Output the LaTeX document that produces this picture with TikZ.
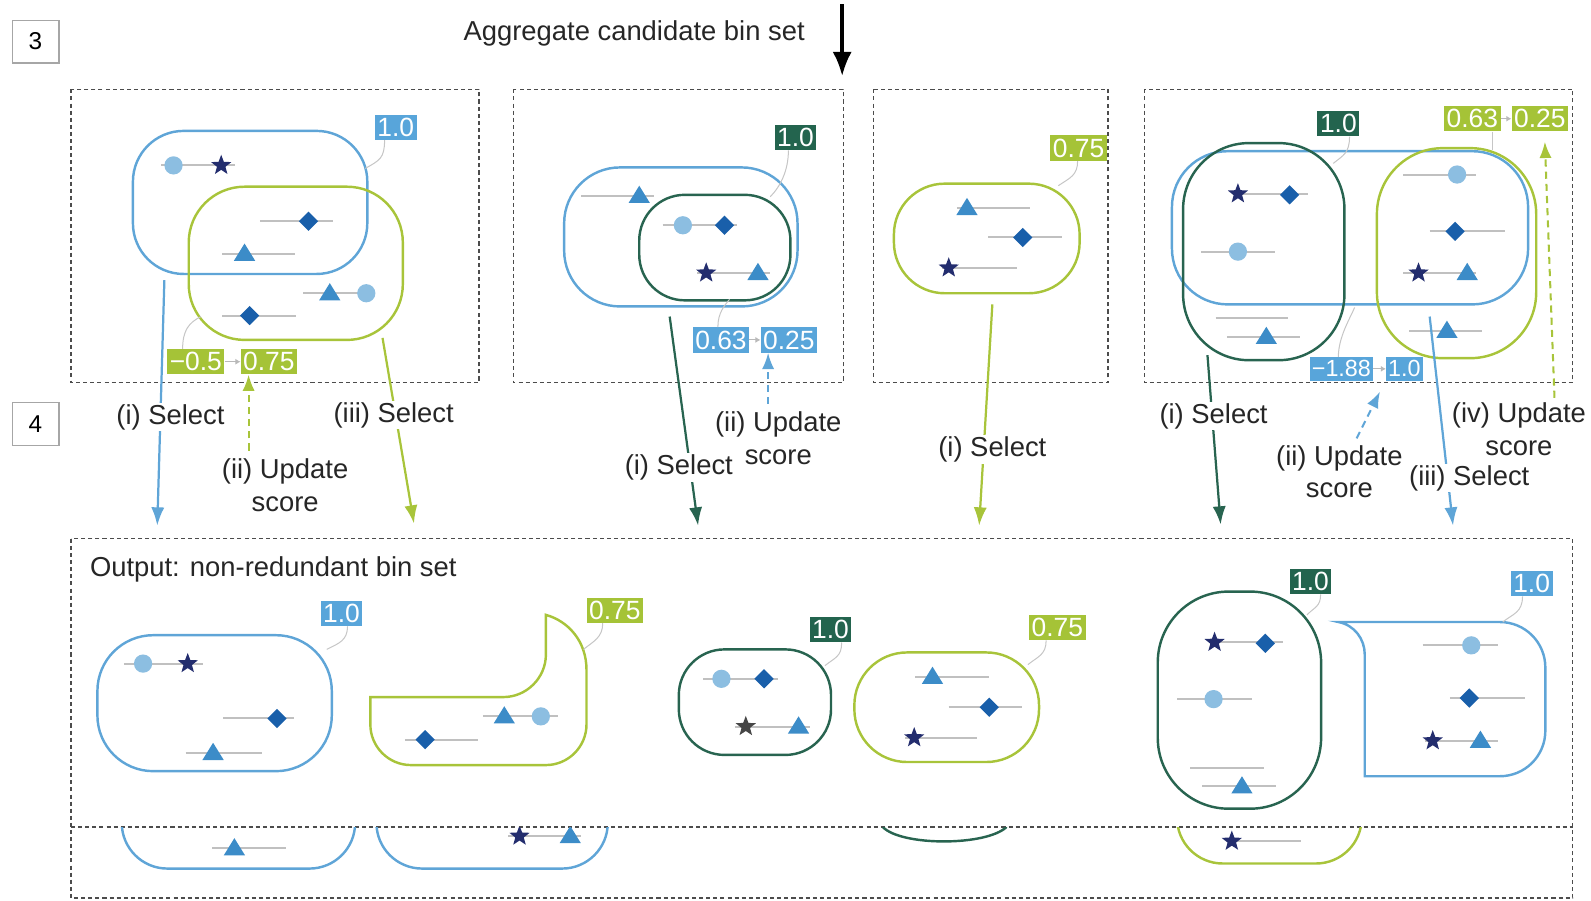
\documentclass[tikz,border=0pt]{standalone}
\usepackage{fontspec}
\setmainfont{Liberation Sans}
\usetikzlibrary{arrows.meta,calc}
\definecolor{cblue}{RGB}{95,165,215}
\definecolor{cdg}{RGB}{40,100,80}
\definecolor{cyg}{RGB}{168,196,58}
\definecolor{lblue}{RGB}{88,165,218}
\definecolor{ldg}{RGB}{35,100,78}
\definecolor{lyg}{RGB}{165,195,55}
\definecolor{ccirc}{RGB}{140,190,225}
\definecolor{cstar}{RGB}{35,45,110}
\definecolor{cdiam}{RGB}{25,95,170}
\definecolor{ctri}{RGB}{60,140,200}
\definecolor{cgl}{RGB}{192,192,192}
\definecolor{cgs}{RGB}{70,70,70}
\newcommand\gseg[3]{\draw[gline] (#1,#3) -- (#2,#3);}
\tikzset{
  mc/.pic={\fill[ccirc] (0,0) circle (9);},
  md/.pic={\fill[cdiam] (0,-9.5) -- (9.5,0) -- (0,9.5) -- (-9.5,0) -- cycle;},
  mt/.pic={\fill[ctri] (-10.5,7) -- (10.5,7) -- (0,-10) -- cycle;},
  ms/.pic={\fill[cstar] (270:10.5) -- (306:4.4) -- (342:10.5) -- (18:4.4) -- (54:10.5) -- (90:4.4) -- (126:10.5) -- (162:4.4) -- (198:10.5) -- (234:4.4) -- cycle;},
  msg/.pic={\fill[cgs] (270:10.5) -- (306:4.4) -- (342:10.5) -- (18:4.4) -- (54:10.5) -- (90:4.4) -- (126:10.5) -- (162:4.4) -- (198:10.5) -- (234:4.4) -- cycle;},
}
\begin{document}
\begin{tikzpicture}[x=1pt,y=-1pt,
  stxt/.style={font=\fontsize{27}{32}\selectfont, text=black!85, align=center, inner sep=1.5pt},
  lbl/.style={fill=#1, text=white, font=\fontsize{26}{26}\selectfont, inner xsep=2.5pt, inner ysep=0pt, minimum height=25pt},
  slbl/.style={fill=#1, text=white, font=\fontsize{23}{23}\selectfont, inner xsep=2pt, inner ysep=0pt, minimum height=23pt},
  bin/.style={draw=#1, line width=2.4pt},
  leader/.style={draw=gray!45, line width=1pt},
  gline/.style={draw=cgl, line width=2pt},
  sel/.style={draw=#1, line width=2.2pt, -{Latex[length=18pt,width=13pt]}},
  upd/.style={draw=#1, line width=2pt, dash pattern=on 7pt off 5pt, -{Latex[length=16pt,width=12pt]}},
  panel/.style={draw=black!70, line width=1.2pt, dash pattern=on 4pt off 3pt},
  numbox/.style={draw=gray!70, line width=1.3pt, minimum width=46pt, minimum height=42pt, font=\fontsize{24}{24}\selectfont},
  sarr/.style={draw=gray!55, line width=1pt, -{Latex[length=5pt,width=6pt]}}
]
\useasboundingbox (0,0) rectangle (1568,887);

% step numbers and header
\node[numbox] (n3) at (35,41) {3};
\node[numbox] (n4) at (35,418) {4};
\node[stxt] (agg) at (625,33) {Aggregate candidate bin set};
\coordinate (ag1) at (830,4);
\coordinate (ag2) at (830,75);
\draw[line width=3.5pt, -{Latex[length=24pt,width=19pt]}] (ag1) -- (ag2);

% panels
\draw[panel] (70,88) rectangle (472,377);
\draw[panel] (506,88) rectangle (831,377);
\draw[panel] (861,88) rectangle (1092,377);
\draw[panel] (1128,88) rectangle (1550,377);
\draw[panel] (70,531) rectangle (1550,885);
\draw[panel] (70,815) -- (1550,815);

% ---------- Panel 1 ----------
\draw[bin=cblue, rounded corners=50pt] (131,129) rectangle (362,270);
\draw[bin=cyg, rounded corners=55pt] (186,184) rectangle (397,335);
\gseg{159}{232}{163} \pic at (171,163) {mc}; \pic at (218,163) {ms};
\gseg{256}{328}{218} \pic at (304,218) {md};
\gseg{219}{291}{250} \pic at (241,250) {mt};
\gseg{299}{370}{289} \pic at (325,289) {mt}; \pic at (361,289) {mc};
\gseg{219}{292}{311} \pic at (246,311) {md};
\node[lbl=lblue] (L1) at (390,125.5) {1.0};
\draw[leader] ($(L1.south)+(-11,0)$) .. controls +(0,18) and +(14,-8) .. (360,166);
\node[lbl=lyg] (S1a) at (193,356.5) {−0.5};
\node[lbl=lyg] (S1b) at (265,356.5) {0.75};
\draw[sarr] (S1a) -- (S1b);
\draw[leader] ($(S1a.north)+(-13,0)$) .. controls +(0,-18) and +(-12,6) .. (198,312);

% ---------- Panel 2 ----------
\draw[bin=cblue, rounded corners=55pt] (556,165) rectangle (786,302);
\draw[bin=cdg, rounded corners=45pt] (630,192) rectangle (779,296);
\gseg{573}{645}{193} \pic at (630,193) {mt};
\gseg{653}{726}{222} \pic at (673,222) {mc}; \pic at (714,222) {md};
\gseg{687}{759}{269} \pic at (696,269) {ms}; \pic at (747,269) {mt};
\node[lbl=ldg] (L2) at (784,135.5) {1.0};
\draw[leader] ($(L2.south)+(-7,0)$) .. controls +(0,20) and +(10,-10) .. (759,194);
\node[lbl=lblue] (S2a) at (710.5,335) {0.63};
\node[lbl=lblue] (S2b) at (777.5,335) {0.25};
\draw[sarr] (S2a) -- (S2b);
\draw[leader] ($(S2a.north)+(-3,0)$) .. controls +(0,-14) and +(-5,6) .. (719,295);

% ---------- Panel 3 ----------
\draw[bin=cyg, rounded corners=50pt] (881,181) rectangle (1064,289);
\gseg{943}{1015}{205} \pic at (953,205) {mt};
\gseg{974}{1047}{234} \pic at (1008,234) {md};
\gseg{928}{1002}{264} \pic at (935,264) {ms};
\node[lbl=lyg] (L3) at (1063,146) {0.75};
\draw[leader] ($(L3.south)+(-1,0)$) .. controls +(0,14) and +(12,-8) .. (1043,183);

% ---------- Panel 4 ----------
\draw[bin=cblue, rounded corners=55pt] (1155,149) rectangle (1506,300);
\draw[bin=cdg, rounded corners=65pt] (1166,141) rectangle (1325,355);
\draw[bin=cyg, rounded corners=65pt] (1357,146) rectangle (1514,353);
\gseg{1217}{1289}{191} \pic at (1220,191) {ms}; \pic at (1271,192) {md};
\gseg{1184}{1257}{248} \pic at (1220,248) {mc};
\gseg{1198}{1269}{313}
\gseg{1209}{1281}{332} \pic at (1248,332) {mt};
\gseg{1383}{1455}{172} \pic at (1436,172) {mc};
\gseg{1409}{1483}{228} \pic at (1434,228) {md};
\gseg{1383}{1455}{269} \pic at (1398,269) {ms}; \pic at (1446,269) {mt};
\gseg{1389}{1461}{326} \pic at (1426,326) {mt};
\node[lbl=ldg] (L4) at (1319,122) {1.0};
\draw[leader] ($(L4.south)+(11,0)$) .. controls +(0,16) and +(10,-8) .. (1314,161);
\node[lbl=lyg] (S4a) at (1451,117) {0.63};
\node[lbl=lyg] (S4b) at (1517.5,117) {0.25};
\draw[sarr] (S4a) -- (S4b);
\draw[leader] ($(S4a.south)+(20,0)$) -- ++(0,18);
\node[slbl=lblue] (S4c) at (1322,363.5) {−1.88};
\node[slbl=lblue] (S4d) at (1384,363.5) {1.0};
\draw[sarr] (S4c) -- (S4d);
\draw[leader] ($(S4c.north)+(-3,0)$) .. controls +(0,-20) and +(-4,10) .. (1335,303);

% ---------- arrows between steps ----------
\coordinate (a1s) at (162,276); \coordinate (a1e) at (155,518);
\draw[sel=cblue] (a1s) -- (a1e);
\node[stxt, fill=white] (t1) at (168,411) {(i) Select};
\coordinate (a2s) at (377,333); \coordinate (a2e) at (408,516);
\draw[sel=cyg] (a2s) -- (a2e);
\node[stxt, fill=white] (t2) at (388,409) {(iii) Select};
\coordinate (u1s) at (245,444);
\draw[upd=cyg] (u1s) -- (u1s |- S1b.south);
\node[stxt] (t3) at (281,478) {(ii) Update\\score};

\coordinate (a3s) at (660,312); \coordinate (a3e) at (688,518);
\draw[sel=cdg] (a3s) -- (a3e);
\node[stxt, fill=white] (t4) at (669,461) {(i) Select};
\coordinate (u2s) at (757,398);
\draw[upd=cblue] (u2s) -- (u2s |- S2b.south);
\node[stxt] (t5) at (767,432) {(ii) Update\\score};

\coordinate (a4s) at (978,300); \coordinate (a4e) at (965,518);
\draw[sel=cyg] (a4s) -- (a4e);
\node[stxt, fill=white] (t6) at (978,443) {(i) Select};

\coordinate (a5s) at (1190,350); \coordinate (a5e) at (1203,517);
\draw[sel=cdg] (a5s) -- (a5e);
\node[stxt, fill=white] (t7) at (1196,410) {(i) Select};
\coordinate (u3s) at (1337,432); \coordinate (u3e) at (1360,386);
\draw[upd=cblue] (u3s) -- (u3e);
\node[stxt] (t8) at (1320,465) {(ii) Update\\score};
\coordinate (a6s) at (1409,312); \coordinate (a6e) at (1432,518);
\draw[sel=cblue] (a6s) -- (a6e);
\node[stxt, fill=white] (t9) at (1448,471) {(iii) Select};
\coordinate (u4s) at (1532,392);
\draw[upd=cyg] (u4s) -- ($(S4b.south)+(5,10)$);
\node[stxt] (t10) at (1497,423) {(iv) Update\\score};

% ---------- Output ----------
\node[stxt, anchor=west] (out) at (87,561) {Output: non-redundant bin set};

% B1
\draw[bin=cblue, rounded corners=55pt] (96,626) rectangle (327,760);
\gseg{122}{200}{654} \pic at (141,654) {mc}; \pic at (185,654) {ms};
\gseg{220}{290}{708} \pic at (273,708) {md};
\gseg{183}{258}{742} \pic at (210,742) {mt};
\node[lbl=lblue] (L5) at (336.5,604.5) {1.0};
\draw[leader] ($(L5.south)+(6,0)$) .. controls +(0,14) and +(12,-6) .. (322,640);

% B2
\draw[bin=cyg] (365,687) -- (496,687) .. controls (519,687) and (538,668) .. (538,645) -- (538,606)
  .. controls (560,612) and (578,632) .. (578,660) -- (578,714) .. controls (578,736) and (560,754) .. (538,754)
  -- (405,754) .. controls (383,754) and (365,736) .. (365,714) -- cycle;
\gseg{399}{471}{729} \pic at (419,729) {md};
\gseg{476}{550}{706} \pic at (497,706) {mt}; \pic at (533,706) {mc};
\node[lbl=lyg] (L6) at (606,601.5) {0.75};
\draw[leader] ($(L6.south)+(-12,0)$) .. controls +(0,14) and +(10,-8) .. (575,640);

% B3
\draw[bin=cdg, rounded corners=45pt] (669,640) rectangle (819,744);
\gseg{693}{767}{669} \pic at (711,669) {mc}; \pic at (753,669) {md};
\gseg{724}{798}{716} \pic at (735,716) {msg}; \pic at (787,716) {mt};
\node[lbl=ldg] (L7) at (818.5,620.5) {1.0};
\draw[leader] ($(L7.south)+(11,0)$) .. controls +(0,14) and +(10,-8) .. (813,656);

% B4
\draw[bin=cyg, rounded corners=52pt] (842,643) rectangle (1024,751);
\gseg{902}{975}{667} \pic at (919,667) {mt};
\gseg{935}{1007}{697} \pic at (975,697) {md};
\gseg{892}{963}{727} \pic at (901,727) {ms};
\node[lbl=lyg] (L8) at (1042,618.5) {0.75};
\draw[leader] ($(L8.south)+(-11,0)$) .. controls +(0,14) and +(10,-8) .. (1013,655);

% B5
\draw[bin=cdg, rounded corners=70pt] (1141,583) rectangle (1302,797);
\gseg{1197}{1264}{633} \pic at (1197,633) {ms}; \pic at (1247,634) {md};
\gseg{1160}{1234}{689} \pic at (1196,689) {mc};
\gseg{1173}{1246}{757}
\gseg{1185}{1258}{775} \pic at (1224,775) {mt};
\node[lbl=ldg] (L9) at (1291.5,573) {1.0};
\draw[leader] ($(L9.south)+(10,0)$) .. controls +(0,12) and +(8,-8) .. (1288,606);

% B6
\draw[bin=cblue] (1319,613) -- (1478,613) .. controls (1503,613) and (1523,633) .. (1523,658) -- (1523,720)
  .. controls (1523,745) and (1503,765) .. (1478,765) -- (1345,765) -- (1345,645)
  .. controls (1345,630) and (1335,616) .. (1319,613) -- cycle;
\gseg{1402}{1476}{636} \pic at (1450,636) {mc};
\gseg{1429}{1503}{688} \pic at (1448,688) {md};
\gseg{1404}{1476}{730} \pic at (1412,730) {ms}; \pic at (1459,730) {mt};
\node[lbl=lblue] (L10) at (1509.5,575) {1.0};
\draw[leader] ($(L10.south)+(-9,0)$) .. controls +(0,16) and +(10,-8) .. (1481,613);

% fragments below the cut line
\begin{scope}
\clip (70,816) rectangle (1550,885);
\draw[bin=cblue, rounded corners=45pt] (120,740) rectangle (350,856);
\gseg{209}{282}{836} \pic at (231,836) {mt};
\draw[bin=cblue, rounded corners=45pt] (371,740) rectangle (599,856);
\gseg{501}{573}{824} \pic at (512,824) {ms}; \pic at (562,824) {mt};
\draw[bin=cdg] (870,815) .. controls (888,834) and (972,834) .. (992,815);
\draw[bin=cyg, rounded corners=45pt] (1160,740) rectangle (1342,851);
\gseg{1214}{1282}{829} \pic at (1214,829) {ms};
\end{scope}
\end{tikzpicture}
\end{document}
